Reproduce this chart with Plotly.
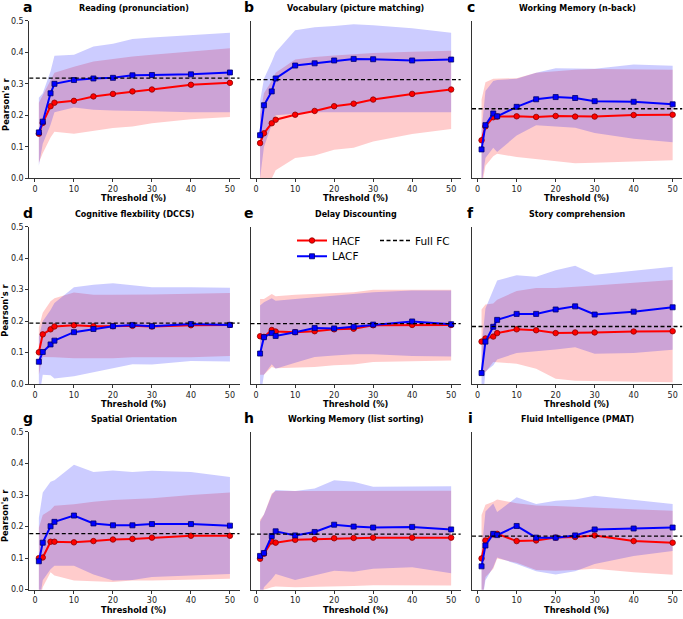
import plotly.graph_objects as go

thresholds = [1, 2, 4, 5, 10, 15, 20, 25, 30, 40, 50]
panel_titles = ["Reading (pronunciation)", "Vocabulary (picture matching)", "Working Memory (n-back)",
                "Cognitive flexbility (DCCS)", "Delay Discounting", "Story comprehension",
                "Spatial Orientation", "Working Memory (list sorting)", "Fluid Intelligence (PMAT)"]
panel_letters = ["a", "b", "c", "d", "e", "f", "g", "h", "i"]
x_ticks = [0, 10, 20, 30, 40, 50]
y_ticks = [0.0, 0.1, 0.2, 0.3, 0.4, 0.5]
full_fc = [0.318, 0.313, 0.221, 0.194, 0.192, 0.183, 0.178, 0.176, 0.170]

# a
a_hacf = [0.142, 0.176, 0.229, 0.240, 0.246, 0.260, 0.268, 0.276, 0.282, 0.297, 0.303]
a_hacf_hi = [0.240, 0.265, 0.310, 0.335, 0.354, 0.371, 0.379, 0.387, 0.392, 0.403, 0.413]
a_hacf_lo = [0.050, 0.080, 0.130, 0.148, 0.142, 0.152, 0.160, 0.165, 0.175, 0.188, 0.195]
a_lacf = [0.146, 0.180, 0.270, 0.300, 0.312, 0.317, 0.319, 0.327, 0.328, 0.330, 0.336]
a_lacf_hi = [0.256, 0.270, 0.340, 0.389, 0.392, 0.418, 0.427, 0.442, 0.447, 0.455, 0.462]
a_lacf_lo = [0.040, 0.110, 0.170, 0.210, 0.225, 0.218, 0.215, 0.213, 0.213, 0.210, 0.210]
# b
b_hacf = [0.112, 0.143, 0.175, 0.186, 0.202, 0.214, 0.229, 0.237, 0.250, 0.268, 0.282]
b_hacf_hi = [0.200, 0.270, 0.310, 0.335, 0.377, 0.385, 0.390, 0.395, 0.398, 0.402, 0.405]
b_hacf_lo = [-0.050, -0.030, 0.000, 0.026, 0.065, 0.073, 0.091, 0.097, 0.117, 0.141, 0.157]
b_lacf = [0.137, 0.232, 0.276, 0.317, 0.358, 0.365, 0.374, 0.379, 0.378, 0.374, 0.377]
b_lacf_hi = [0.245, 0.316, 0.370, 0.400, 0.470, 0.479, 0.483, 0.489, 0.486, 0.476, 0.462]
b_lacf_lo = [0.000, 0.100, 0.170, 0.200, 0.205, 0.210, 0.210, 0.210, 0.210, 0.210, 0.210]
# c
c_hacf = [0.121, 0.165, 0.194, 0.196, 0.197, 0.195, 0.198, 0.196, 0.196, 0.201, 0.202]
c_hacf_hi = [0.250, 0.305, 0.316, 0.316, 0.318, 0.335, 0.340, 0.345, 0.347, 0.347, 0.345]
c_hacf_lo = [-0.030, 0.040, 0.070, 0.078, 0.068, 0.061, 0.054, 0.048, 0.050, 0.055, 0.058]
c_lacf = [0.092, 0.169, 0.206, 0.197, 0.227, 0.251, 0.258, 0.255, 0.245, 0.243, 0.235]
c_lacf_hi = [0.150, 0.277, 0.309, 0.312, 0.316, 0.335, 0.349, 0.349, 0.348, 0.361, 0.357]
c_lacf_lo = [-0.020, 0.065, 0.097, 0.084, 0.136, 0.169, 0.165, 0.161, 0.144, 0.126, 0.115]
# d
d_hacf = [0.101, 0.158, 0.174, 0.183, 0.187, 0.184, 0.184, 0.185, 0.183, 0.187, 0.188]
d_hacf_hi = [0.180, 0.227, 0.263, 0.273, 0.291, 0.284, 0.284, 0.284, 0.285, 0.287, 0.289]
d_hacf_lo = [0.030, 0.086, 0.085, 0.085, 0.082, 0.082, 0.082, 0.085, 0.085, 0.085, 0.089]
d_lacf = [0.071, 0.102, 0.126, 0.138, 0.165, 0.175, 0.184, 0.188, 0.184, 0.191, 0.188]
d_lacf_hi = [0.150, 0.200, 0.235, 0.258, 0.308, 0.316, 0.320, 0.315, 0.308, 0.308, 0.306]
d_lacf_lo = [-0.050, 0.030, 0.028, 0.018, 0.025, 0.037, 0.050, 0.063, 0.062, 0.073, 0.072]
# e
e_hacf = [0.152, 0.150, 0.172, 0.167, 0.165, 0.168, 0.174, 0.176, 0.187, 0.188, 0.188]
e_hacf_hi = [0.270, 0.270, 0.286, 0.279, 0.284, 0.287, 0.289, 0.292, 0.300, 0.300, 0.300]
e_hacf_lo = [0.030, 0.030, 0.054, 0.050, 0.051, 0.054, 0.060, 0.062, 0.070, 0.073, 0.075]
e_lacf = [0.097, 0.149, 0.162, 0.153, 0.165, 0.178, 0.177, 0.182, 0.189, 0.199, 0.190]
e_lacf_hi = [0.250, 0.260, 0.273, 0.265, 0.270, 0.276, 0.281, 0.286, 0.292, 0.297, 0.297]
e_lacf_lo = [-0.050, 0.030, 0.063, 0.049, 0.068, 0.086, 0.091, 0.095, 0.095, 0.089, 0.088]
# f
f_hacf = [0.135, 0.145, 0.151, 0.162, 0.174, 0.171, 0.162, 0.164, 0.164, 0.167, 0.168]
f_hacf_hi = [0.237, 0.253, 0.256, 0.268, 0.296, 0.305, 0.305, 0.308, 0.313, 0.322, 0.331]
f_hacf_lo = [0.044, 0.038, 0.070, 0.070, 0.065, 0.049, 0.017, 0.011, 0.010, 0.008, 0.006]
f_lacf = [0.035, 0.135, 0.182, 0.204, 0.223, 0.223, 0.237, 0.247, 0.221, 0.230, 0.244]
f_lacf_hi = [0.120, 0.240, 0.300, 0.329, 0.346, 0.341, 0.362, 0.376, 0.347, 0.360, 0.373]
f_lacf_lo = [-0.100, 0.040, 0.060, 0.078, 0.099, 0.105, 0.110, 0.117, 0.096, 0.099, 0.109]
# g
g_hacf = [0.100, 0.102, 0.152, 0.152, 0.150, 0.154, 0.159, 0.161, 0.165, 0.171, 0.171]
g_hacf_hi = [0.196, 0.237, 0.253, 0.266, 0.271, 0.279, 0.284, 0.286, 0.290, 0.300, 0.308]
g_hacf_lo = [-0.050, 0.008, 0.055, 0.045, 0.029, 0.027, 0.024, 0.029, 0.029, 0.031, 0.035]
g_lacf = [0.090, 0.149, 0.201, 0.215, 0.235, 0.210, 0.204, 0.204, 0.208, 0.208, 0.203]
g_lacf_hi = [0.227, 0.308, 0.342, 0.347, 0.396, 0.373, 0.378, 0.373, 0.377, 0.373, 0.357]
g_lacf_lo = [-0.050, 0.030, 0.065, 0.076, 0.076, 0.048, 0.029, 0.031, 0.040, 0.045, 0.050]
# h
h_hacf = [0.098, 0.114, 0.153, 0.149, 0.158, 0.160, 0.163, 0.164, 0.165, 0.165, 0.165]
h_hacf_hi = [0.222, 0.238, 0.305, 0.313, 0.313, 0.313, 0.313, 0.313, 0.314, 0.314, 0.314]
h_hacf_lo = [-0.050, 0.000, 0.008, 0.010, 0.008, 0.008, 0.011, 0.012, 0.014, 0.014, 0.013]
h_lacf = [0.107, 0.116, 0.170, 0.185, 0.172, 0.183, 0.206, 0.200, 0.197, 0.199, 0.191]
h_lacf_hi = [0.215, 0.238, 0.300, 0.316, 0.313, 0.321, 0.347, 0.342, 0.326, 0.326, 0.328]
h_lacf_lo = [-0.050, 0.008, 0.034, 0.050, 0.031, 0.045, 0.060, 0.057, 0.066, 0.071, 0.052]
# i
i_hacf = [0.099, 0.156, 0.175, 0.177, 0.154, 0.156, 0.165, 0.167, 0.172, 0.154, 0.149]
i_hacf_hi = [0.237, 0.269, 0.279, 0.286, 0.274, 0.267, 0.265, 0.262, 0.260, 0.255, 0.250]
i_hacf_lo = [-0.050, 0.040, 0.066, 0.099, 0.085, 0.062, 0.060, 0.062, 0.066, 0.055, 0.047]
i_lacf = [0.074, 0.140, 0.177, 0.173, 0.202, 0.165, 0.165, 0.172, 0.191, 0.194, 0.197]
i_lacf_hi = [0.120, 0.248, 0.273, 0.246, 0.293, 0.272, 0.282, 0.286, 0.298, 0.286, 0.272]
i_lacf_lo = [-0.050, 0.030, 0.071, 0.102, 0.081, 0.058, 0.048, 0.058, 0.081, 0.107, 0.123]

panels = [
    (a_hacf, a_hacf_lo, a_hacf_hi, a_lacf, a_lacf_lo, a_lacf_hi),
    (b_hacf, b_hacf_lo, b_hacf_hi, b_lacf, b_lacf_lo, b_lacf_hi),
    (c_hacf, c_hacf_lo, c_hacf_hi, c_lacf, c_lacf_lo, c_lacf_hi),
    (d_hacf, d_hacf_lo, d_hacf_hi, d_lacf, d_lacf_lo, d_lacf_hi),
    (e_hacf, e_hacf_lo, e_hacf_hi, e_lacf, e_lacf_lo, e_lacf_hi),
    (f_hacf, f_hacf_lo, f_hacf_hi, f_lacf, f_lacf_lo, f_lacf_hi),
    (g_hacf, g_hacf_lo, g_hacf_hi, g_lacf, g_lacf_lo, g_lacf_hi),
    (h_hacf, h_hacf_lo, h_hacf_hi, h_lacf, h_lacf_lo, h_lacf_hi),
    (i_hacf, i_hacf_lo, i_hacf_hi, i_lacf, i_lacf_lo, i_lacf_hi),
]

W, H = 683, 619
col_px = [(29.3, 239.5), (250.5, 460.7), (472.0, 682.2)]
row_px = [(17.0, 177.0), (226.0, 385.7), (434.3, 594.3)]
FONT = "DejaVu Sans"
AXC = "#333333"

fig = go.Figure()
layout_axes = {}
annotations = []

for k, (hm, hlo, hhi, lm, llo, lhi) in enumerate(panels):
    r, c = divmod(k, 3)
    n = k + 1
    xa = "x" if n == 1 else f"x{n}"
    ya = "y" if n == 1 else f"y{n}"
    xband = thresholds + thresholds[::-1]
    fig.add_trace(go.Scatter(x=xband, y=hhi + hlo[::-1], fill="toself", mode="lines",
                             line=dict(width=0), fillcolor="rgba(255,0,0,0.2)",
                             showlegend=False, hoverinfo="skip", xaxis=xa, yaxis=ya))
    fig.add_trace(go.Scatter(x=xband, y=lhi + llo[::-1], fill="toself", mode="lines",
                             line=dict(width=0), fillcolor="rgba(0,0,255,0.2)",
                             showlegend=False, hoverinfo="skip", xaxis=xa, yaxis=ya))
    fig.add_trace(go.Scatter(x=thresholds, y=hm, mode="lines+markers", name="HACF",
                             line=dict(color="#ff0000", width=2),
                             marker=dict(symbol="circle", size=5.5, color="#ff0000",
                                         line=dict(color="#8b0000", width=0.8)),
                             showlegend=(k == 0), legend="legend", xaxis=xa, yaxis=ya))
    fig.add_trace(go.Scatter(x=thresholds, y=lm, mode="lines+markers", name="LACF",
                             line=dict(color="#0000ff", width=2),
                             marker=dict(symbol="square", size=5, color="#0000ff",
                                         line=dict(color="#00006b", width=0.8)),
                             showlegend=(k == 0), legend="legend3", xaxis=xa, yaxis=ya))
    fig.add_shape(type="line", xref=f"{xa} domain", x0=0, x1=1, yref=ya,
                  y0=full_fc[k], y1=full_fc[k],
                  line=dict(color="black", width=1.3, dash="4px,2.5px"),
                  name="Full FC", showlegend=(k == 0), legend="legend2")

    x0, x1 = col_px[c]
    y0, y1 = row_px[r]
    xkey = "xaxis" if n == 1 else f"xaxis{n}"
    ykey = "yaxis" if n == 1 else f"yaxis{n}"
    layout_axes[xkey] = dict(domain=[x0 / W, x1 / W], anchor=ya, range=[-1.45, 52.45],
                             tickvals=x_ticks, showline=True, linecolor=AXC, linewidth=1,
                             ticks="outside", ticklen=3, tickwidth=0.8, tickcolor=AXC,
                             tickfont=dict(size=8, color="#222", family=FONT),
                             showgrid=False, zeroline=False)
    layout_axes[ykey] = dict(domain=[1 - y1 / H, 1 - y0 / H], anchor=xa, range=[0, 0.5],
                             tickvals=y_ticks, tickformat=".1f", showline=True, linecolor=AXC,
                             linewidth=1, ticks="outside" if c == 0 else "",
                             showticklabels=(c == 0), ticklen=3, tickwidth=0.8, tickcolor=AXC,
                             tickfont=dict(size=8, color="#222", family=FONT),
                             showgrid=False, zeroline=False)

    xd, yd = f"{xa} domain", f"{ya} domain"
    annotations.append(dict(text=f"<b>{panel_titles[k]}</b>", xref=xd, yref=yd, x=0.5, y=1,
                            yshift=12, xanchor="center", yanchor="middle", showarrow=False,
                            font=dict(size=8, color="black", family=FONT)))
    annotations.append(dict(text=f"<b>{panel_letters[k]}</b>", xref=xd, yref=yd, x=0, y=1,
                            xshift=-1.5, yshift=14, xanchor="center", yanchor="middle",
                            showarrow=False, font=dict(size=14, color="black", family=FONT)))
    annotations.append(dict(text="<b>Threshold (%)</b>", xref=xd, yref=yd, x=0.5, y=0,
                            yshift=-20, xanchor="center", yanchor="middle", showarrow=False,
                            font=dict(size=8.3, color="black", family=FONT)))
    if c == 0:
        annotations.append(dict(text="<b>Pearson's r</b>", xref=xd, yref=yd, x=0, y=0.5,
                                xshift=-24, yshift=-5, textangle=-90, xanchor="center",
                                yanchor="middle", showarrow=False,
                                font=dict(size=8.3, color="black", family=FONT)))

leg_common = dict(xanchor="left", yanchor="middle", bgcolor="rgba(0,0,0,0)", borderwidth=0,
                  font=dict(size=10.5, color="black", family=FONT))
fig.update_layout(
    width=W, height=H,
    margin=dict(l=0, r=0, t=0, b=0),
    paper_bgcolor="white", plot_bgcolor="white",
    font=dict(family=FONT),
    annotations=annotations,
    legend=dict(x=292 / W, y=1 - 240 / H, **leg_common),
    legend2=dict(x=375 / W, y=1 - 240 / H, **leg_common),
    legend3=dict(x=292 / W, y=1 - 256 / H, **leg_common),
    **layout_axes,
)

fig.write_html("out.html", config={"displayModeBar": False},
               post_script="document.body.style.margin='0';document.body.style.overflow='hidden';")
